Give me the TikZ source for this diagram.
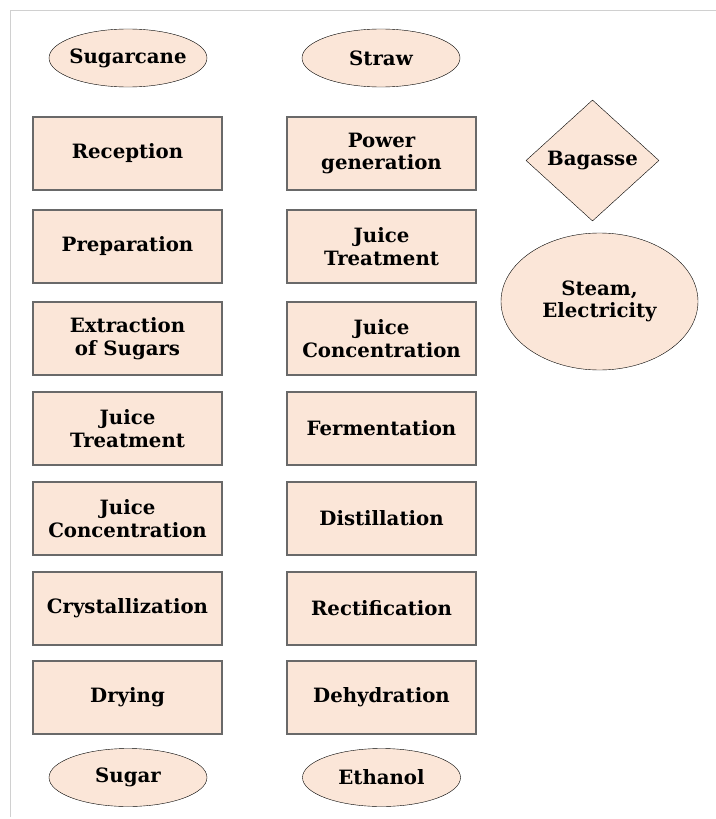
\documentclass[tikz,border=0pt]{standalone}
\usepackage{fontspec}
\setmainfont{DejaVu Serif}
\usetikzlibrary{shapes.geometric, positioning}
\definecolor{peach}{RGB}{251,230,216}
\definecolor{boxline}{RGB}{105,105,105}
\definecolor{framegray}{RGB}{208,208,208}

\begin{document}
\begin{tikzpicture}[
    x=1bp, y=-1bp,
    font=\fontsize{19.8}{22.7}\selectfont\bfseries,
    proc/.style={draw=boxline, line width=1.3bp, fill=peach, align=center,
                 minimum width=189bp, minimum height=73bp, inner sep=2bp},
    prod/.style={ellipse, draw, fill=peach, align=center, minimum width=158bp,
                 minimum height=58bp, inner xsep=-6bp, inner ysep=1bp},
    dia/.style={diamond, draw, fill=peach, minimum width=133bp,
                minimum height=121bp, inner sep=1bp}
  ]
    \useasboundingbox (0,0) rectangle (716,819);
    \draw[framegray, line width=1bp] (10.5,817) -- (10.5,10.5) -- (716,10.5);

    % end products first
    \node[prod] (sug) at (128,777.5)   {Sugar};
    \node[prod] (eth) at (381.5,777.5) {Ethanol};

    % sugar line
    \node[prod] (cane) at (128,58)    {Sugarcane};
    \node[proc] (rec)  at (127.5,153.5) {Reception};
    \node[proc] (prep) at (127.5,246.5) {Preparation};
    \node[proc] (ext)  at (127.5,338.5) {Extraction\\of Sugars};
    \node[proc] (jt1)  at (127.5,428.5) {Juice\\Treatment};
    \node[proc] (jc1)  at (127.5,518.5) {Juice\\Concentration};
    \node[proc] (cry)  at (127.5,608.5) {Crystallization};
    \node[proc] (dry)  at (127.5,697.5) {Drying};

    % ethanol line
    \node[prod] (straw) at (381,58)     {Straw};
    \node[proc] (pow)   at (381.5,153.5) {Power\\generation};
    \node[proc] (jt2)   at (381.5,246.5) {Juice\\Treatment};
    \node[proc] (jc2)   at (381.5,338.5) {Juice\\Concentration};
    \node[proc] (ferm)  at (381.5,428.5) {Fermentation};
    \node[proc] (dist)  at (381.5,518.5) {Distillation};
    \node[proc] (rect)  at (381.5,608.5) {Rectification};
    \node[proc] (dehy)  at (381.5,697.5) {Dehydration};

    % by-products
    \node[dia] (bag) at (592.5,160.5) {Bagasse};
    \node[prod, inner xsep=1bp, minimum width=197bp, minimum height=137bp] (steam)
      at (599.5,301.5) {Steam,\\Electricity};
  \end{tikzpicture}
\end{document}
